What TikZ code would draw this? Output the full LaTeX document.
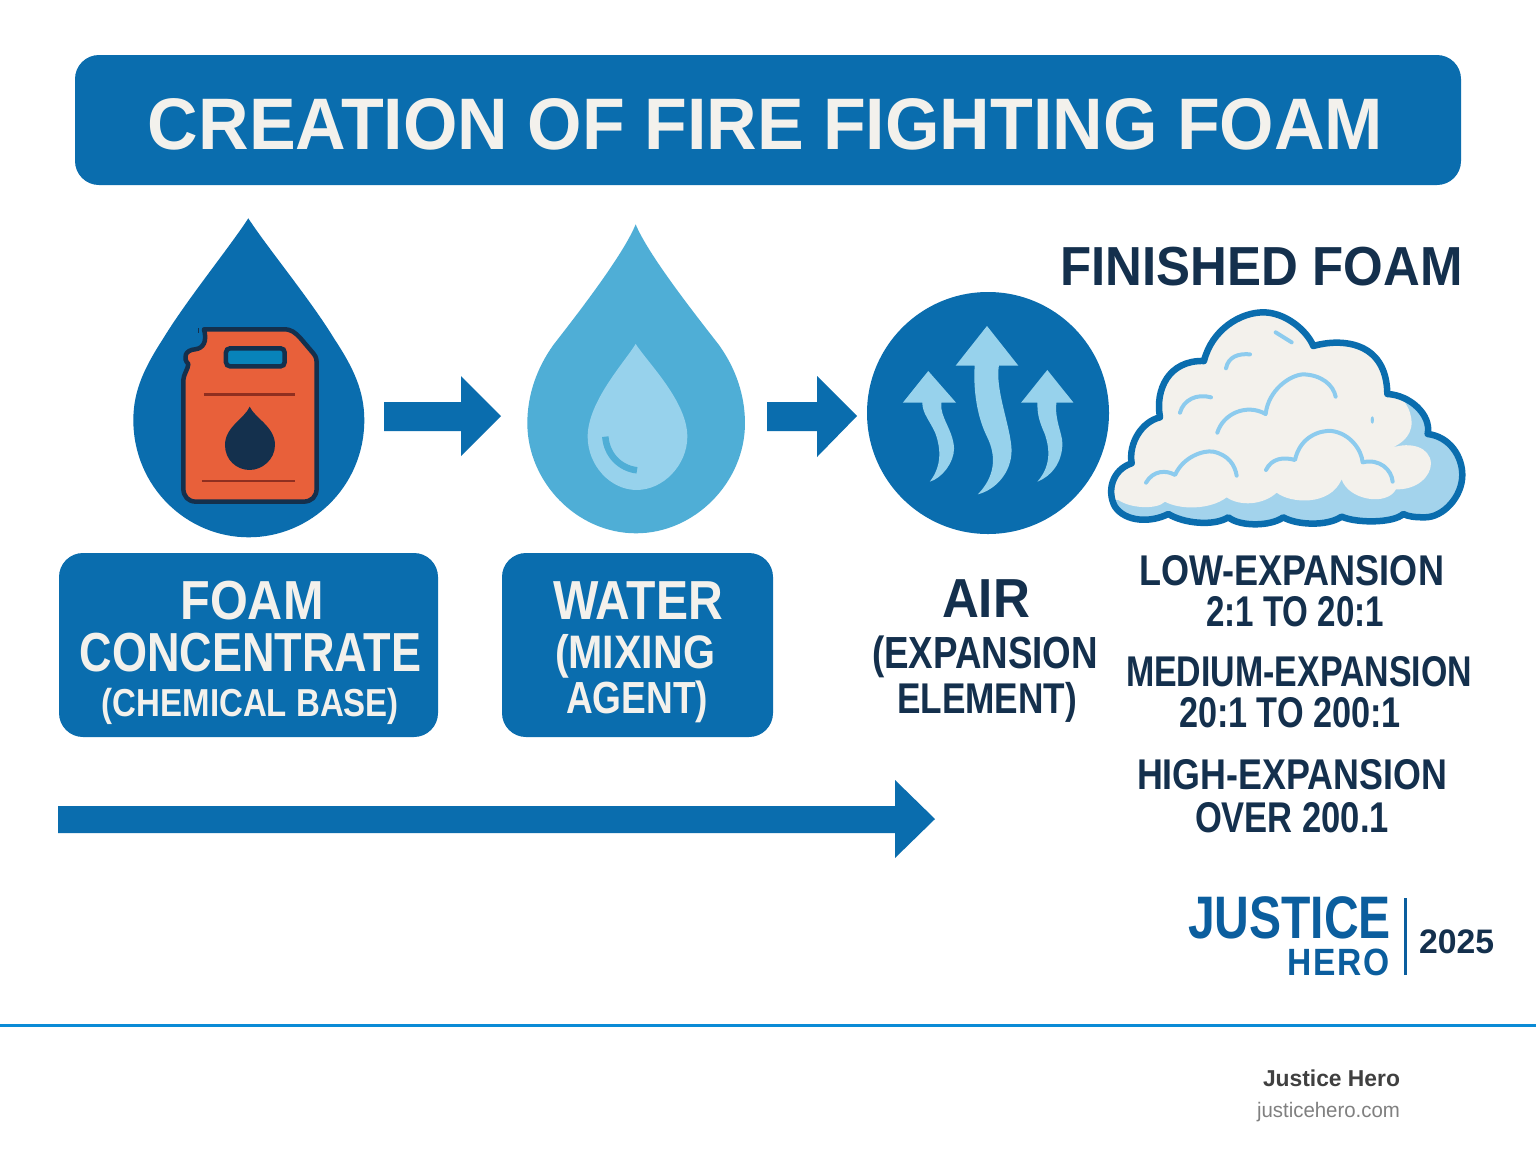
\documentclass[tikz,border=0pt]{standalone}
\usepackage{fontspec}
\setmainfont{Liberation Sans}
\definecolor{brand}{HTML}{0A6DAE}
\definecolor{sky}{HTML}{4FAED6}
\definecolor{pale}{HTML}{97D2EC}
\definecolor{cream}{HTML}{F3F1EC}
\definecolor{navy}{HTML}{14304D}
\definecolor{foamblue}{HTML}{A3D3EC}
\definecolor{foamline}{HTML}{8CCBEE}
\definecolor{can}{HTML}{E8603A}
\definecolor{canline}{HTML}{8F2F20}
\definecolor{logo}{HTML}{0B5E9E}
\definecolor{rule}{HTML}{0A8BD6}
\newcommand{\fittxt}[3]{\fontsize{#2bp}{#2bp}\selectfont\resizebox{#1bp}{\height}{#3}}
\tikzset{
  x=1bp,y=-1bp,
  lbl/.style={anchor=base,inner sep=0pt,outer sep=0pt,font=\bfseries},
  boxtext/.style={lbl,text=cream},
  darktext/.style={lbl,text=navy},
  panel/.style={fill=brand,rounded corners=24bp},
  foamarc/.style={draw=foamline,line width=4bp,line cap=round,line join=round},
}
\begin{document}
\begin{tikzpicture}
\useasboundingbox (0,0) rectangle (1536,1154);
\fill[white] (0,0) rectangle (1536,1154);
% title
\fill[panel] (75,55) rectangle (1461,185);
\node[boxtext] (title) at (765.5,149) {\fittxt{1235}{73}{CREATION OF FIRE FIGHTING FOAM}};
% first drop and jerrycan (3x zoom coordinates)
\begin{scope}[shift={(120,210)},xscale=0.3333,yscale=0.3333]
\fill[brand] (385,25) .. controls (330,110) and (200,270) .. (130,385) .. controls (75,470) and (40,540) .. (40,630) .. controls (40,830) and (200,982) .. (386,982) .. controls (572,982) and (733,830) .. (733,630) .. controls (733,540) and (698,470) .. (642,385) .. controls (572,270) and (440,110) .. cycle;
\draw[navy,fill=can,line width=4.5bp,line join=round] (252,358) -- (492,358) .. controls (515,358) and (525,368) .. (540,383) -- (580,430) .. controls (590,442) and (590,450) .. (590,465) -- (590,835) .. controls (590,860) and (575,875) .. (550,875) -- (228,875) .. controls (205,875) and (190,860) .. (190,835) -- (190,510) .. controls (190,495) and (205,475) .. (205,462) .. controls (188,445) and (195,420) .. (225,418) .. controls (250,415) and (262,395) .. (252,358) -- cycle;
\draw[navy,fill=brand!85!cyan,line width=4.5bp,rounded corners=4bp] (318,415) rectangle (494,469);
\draw[canline,line width=2.7bp] (252,553) -- (526,553);
\draw[canline,line width=2.7bp] (246,813) -- (526,813);
\fill[navy] (389,590) .. controls (405,625) and (465,650) .. (465,705) .. controls (465,750) and (425,780) .. (389,780) .. controls (350,780) and (315,750) .. (315,705) .. controls (315,650) and (375,625) .. cycle;
\fill[navy] (234,354) rectangle (238,368);
\end{scope}
% second drop (3x zoom coordinates)
\begin{scope}[shift={(510,215)},xscale=0.3333,yscale=0.3333]
\fill[sky] (377,28) .. controls (340,120) and (200,300) .. (130,390) .. controls (80,460) and (52,540) .. (52,625) .. controls (52,800) and (200,955) .. (378,955) .. controls (556,955) and (705,800) .. (705,625) .. controls (705,540) and (677,460) .. (627,390) .. controls (557,300) and (415,120) .. cycle;
\fill[pale] (377,387) .. controls (345,440) and (233,560) .. (233,665) .. controls (233,750) and (300,825) .. (380,825) .. controls (460,825) and (532,750) .. (532,665) .. controls (532,560) and (415,445) .. cycle;
\draw[sky,line width=6.5bp] (286,665) .. controls (290,720) and (330,760) .. (381,766);
\end{scope}
% air circle
\fill[brand] (988,413) circle (121);
\begin{scope}[shift={(860,280)},xscale=0.3968,yscale=0.3333]
\fill[pale] (320,138) -- (399,257) -- (350,257) .. controls (340,330) and (380,440) .. (382,510) .. controls (382,580) and (340,630) .. (297,643) .. controls (340,590) and (345,530) .. (320,470) .. controls (295,410) and (285,330) .. (289,257) -- (241,257) -- cycle;
\fill[pale] (172,273) -- (242,368) -- (205,368) .. controls (200,410) and (235,450) .. (237,505) .. controls (237,550) and (205,595) .. (176,605) .. controls (205,560) and (205,510) .. (190,460) .. controls (175,420) and (157,400) .. (157,368) -- (108,368) -- cycle;
\fill[pale] (472,270) -- (538,368) -- (495,368) .. controls (490,420) and (510,460) .. (510,490) .. controls (510,550) and (480,590) .. (447,605) .. controls (480,560) and (480,510) .. (465,460) .. controls (450,420) and (447,400) .. (447,368) -- (406,368) -- cycle;
\end{scope}
% cloud (3x zoom coordinates)
\begin{scope}[shift={(1100,300)},xscale=0.3333,yscale=0.3333]
\def\cloudpath{(95,490) .. controls (85,430) and (125,365) .. (180,352) .. controls (165,270) and (205,180) .. (312,183) .. controls (335,90) and (420,37) .. (490,37) .. controls (555,37) and (620,90) .. (640,138) .. controls (720,115) and (860,120) .. (862,282) .. controls (930,285) and (995,345) .. (983,402) .. controls (1050,410) and (1087,470) .. (1087,525) .. controls (1087,590) and (1030,652) .. (975,652) .. controls (945,652) and (925,650) .. (910,642) .. controls (880,670) and (770,670) .. (725,650) .. controls (680,680) and (590,675) .. (550,652) .. controls (510,680) and (420,680) .. (385,652) .. controls (340,680) and (250,670) .. (205,642) .. controls (150,670) and (75,665) .. (45,620) .. controls (20,575) and (35,510) .. (95,490) -- cycle}
\fill[foamblue] \cloudpath;
\begin{scope}
\clip \cloudpath;
\fill[cream] (55,600) .. controls (90,625) and (170,630) .. (195,605) .. controls (240,630) and (330,630) .. (380,592) .. controls (420,620) and (490,615) .. (530,578) .. controls (570,610) and (690,620) .. (725,538) .. controls (745,600) and (860,620) .. (888,568) .. controls (950,570) and (993,530) .. (993,490) .. controls (990,440) and (930,425) .. (877,443) .. controls (925,420) and (950,385) .. (925,325) -- (900,280) -- (860,0) -- (0,0) -- (0,600) -- cycle;
\end{scope}
\draw[brand,line width=6.5bp,line join=round] \cloudpath;
\draw[foamarc] (527,97) -- (575,127);
\draw[foamarc] (378,205) .. controls (385,170) and (415,160) .. (450,163);
\draw[foamarc] (240,338) .. controls (250,300) and (290,280) .. (333,292);
\draw[foamarc] (352,398) .. controls (370,340) and (440,310) .. (497,342) .. controls (505,270) and (570,225) .. (610,223) .. controls (665,225) and (700,255) .. (707,290);
\draw[foamarc] (138,548) .. controls (160,510) and (200,510) .. (225,525) .. controls (250,470) and (310,450) .. (340,455) .. controls (385,465) and (405,495) .. (410,527);
\draw[foamarc] (498,510) .. controls (515,475) and (550,470) .. (585,480) .. controls (600,410) and (660,390) .. (695,393) .. controls (750,400) and (785,450) .. (788,487) .. controls (840,475) and (875,510) .. (878,545);
\fill[foamline] (817,360) ellipse (5 and 11);
\end{scope}
% block arrows
\fill[brand] (384,402) -- (461,402) -- (461,376) -- (501,416) -- (461,456) -- (461,431) -- (384,431) -- cycle;
\fill[brand] (767,402) -- (817,402) -- (817,376) -- (857,416) -- (817,457) -- (817,431) -- (767,431) -- cycle;
\fill[brand] (58,806) -- (895,806) -- (895,780) -- (935,819) -- (895,858) -- (895,833) -- (58,833) -- cycle;
% heading
\node[darktext] (finished) at (1261.5,285) {\fittxt{402}{55}{FINISHED FOAM}};
% boxes
\fill[panel] (59,553) rectangle (438,737);
\fill[panel] (502,553) rectangle (773,737);
\node[boxtext] (t1a) at (252,619) {\fittxt{143}{55}{FOAM}};
\node[boxtext] (t1b) at (250.5,671) {\fittxt{342}{55}{CONCENTRATE}};
\node[boxtext] (t1c) at (250.5,716) {\fittxt{297}{39}{(CHEMICAL BASE)}};
\node[boxtext] (t2a) at (638,619) {\fittxt{170}{55}{WATER}};
\node[boxtext] (t2b) at (635,668) {\fittxt{160}{47}{(MIXING}};
\node[boxtext] (t2c) at (637,713) {\fittxt{142}{45}{AGENT)}};
\node[darktext] (t3a) at (986,617) {\fittxt{88}{55}{AIR}};
\node[darktext] (t3b) at (985,668) {\fittxt{226}{45}{(EXPANSION}};
\node[darktext] (t3c) at (987,713) {\fittxt{180}{43}{ELEMENT)}};
\node[darktext] (r1) at (1291.5,585) {\fittxt{305}{43}{LOW-EXPANSION}};
\node[darktext] (r2) at (1295,626) {\fittxt{178}{43}{2:1 TO 20:1}};
\node[darktext] (r3) at (1299,686) {\fittxt{346}{43}{MEDIUM-EXPANSION}};
\node[darktext] (r4) at (1290,727) {\fittxt{222}{43}{20:1 TO 200:1}};
\node[darktext] (r5) at (1292,789) {\fittxt{310}{43}{HIGH-EXPANSION}};
\node[darktext] (r6) at (1292,832) {\fittxt{194}{43}{OVER 200.1}};
% logo
\node[lbl,text=logo] (justice) at (1289.5,938) {\fittxt{203}{60}{JUSTICE}};
\node[lbl,text=logo] (hero) at (1338.5,975) {\fittxt{103}{38}{\addfontfeature{LetterSpace=6}HERO}};
\draw[logo,line width=3bp] (1405,898) -- (1405,975);
\node[lbl,text=navy] (year) at (1456.5,953) {\fittxt{75}{34}{2025}};
% footer
\draw[rule,line width=3bp] (0,1025.5) -- (1536,1025.5);
\node[lbl,text=black!75,anchor=base east] (brandname) at (1400,1086) {\fittxt{137}{23}{Justice Hero}};
\node[lbl,text=black!50,font=\normalfont,anchor=base east] (site) at (1400,1117) {\fittxt{143}{21}{justicehero.com}};
\end{tikzpicture}
\end{document}
